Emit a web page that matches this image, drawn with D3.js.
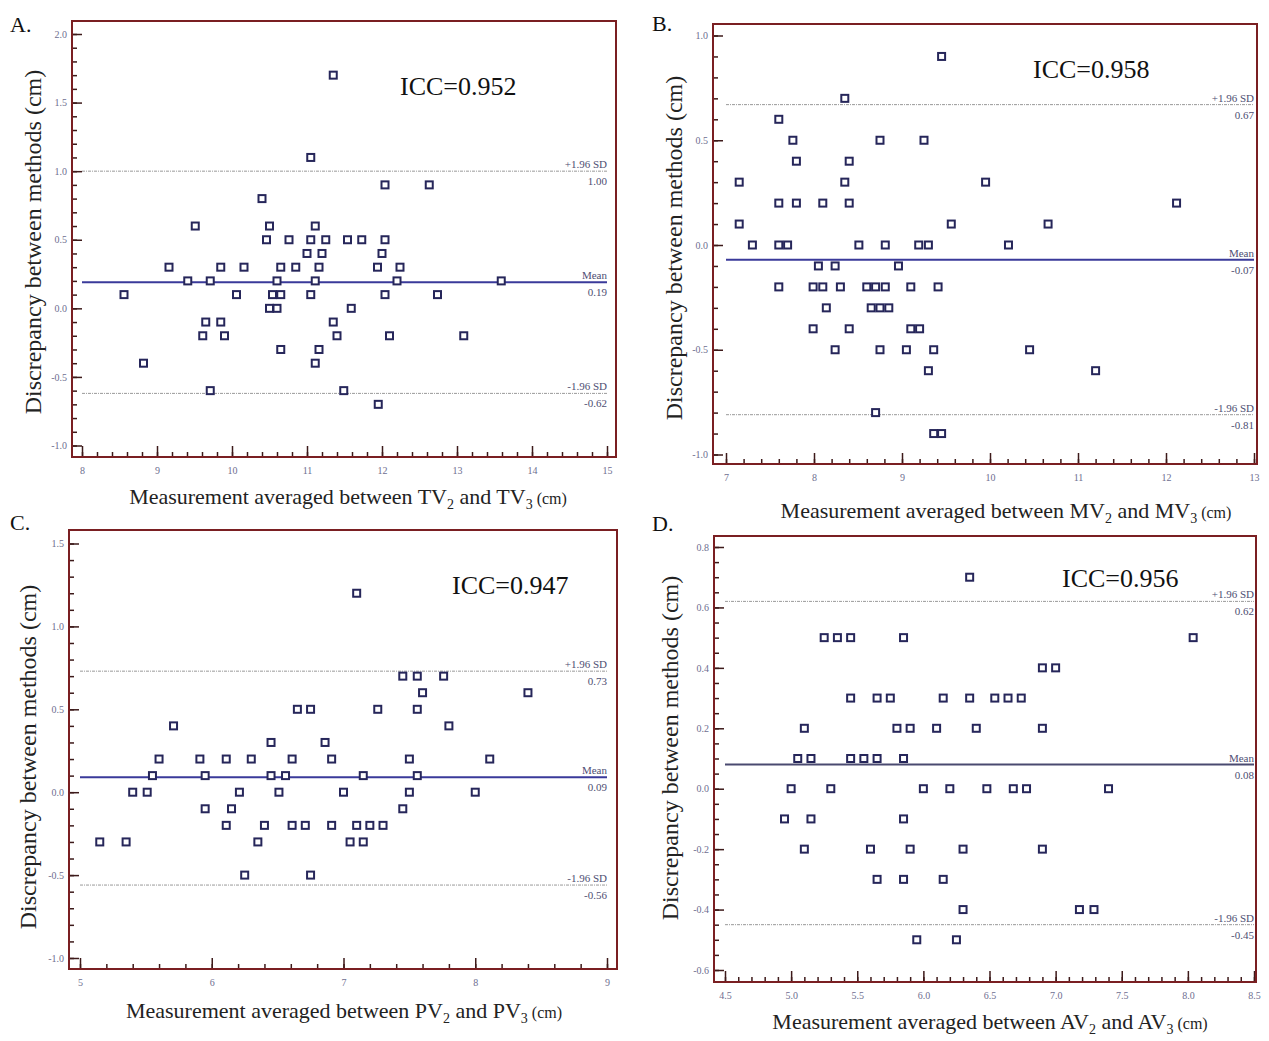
<!DOCTYPE html>
<html>
<head>
<meta charset="utf-8">
<script src="https://cdn.jsdelivr.net/npm/d3@7"></script>
<style>
body { margin: 0; background: #fff; }
text { font-family: "Liberation Serif", "Times New Roman", serif; }
</style>
</head>
<body>
<div id="chart"></div>
<script>
// A. tricuspid valve: average of the two measurements vs. difference
var tvAvg = [11.35, 11.05, 12.04, 12.63, 10.40, 9.51, 10.50, 11.11,
  10.46, 10.76, 11.05, 11.25, 11.54, 11.73, 12.04, 11.00, 11.20, 12.00,
  9.16, 9.85, 10.16, 10.65, 10.85, 11.16, 11.94, 12.24,
  9.41, 9.71, 10.60, 11.11, 12.20, 13.59,
  8.56, 10.06, 10.54, 10.65, 11.05, 12.04, 12.74,
  10.50, 10.60, 11.59, 9.65, 9.85, 11.35,
  9.61, 9.90, 11.40, 12.10, 13.09, 10.65, 11.16, 8.82, 11.11, 9.71, 11.49, 11.95];
var tvDiff = [1.7, 1.1, 0.9, 0.9, 0.8, 0.6, 0.6, 0.6,
  0.5, 0.5, 0.5, 0.5, 0.5, 0.5, 0.5, 0.4, 0.4, 0.4,
  0.3, 0.3, 0.3, 0.3, 0.3, 0.3, 0.3, 0.3,
  0.2, 0.2, 0.2, 0.2, 0.2, 0.2,
  0.1, 0.1, 0.1, 0.1, 0.1, 0.1, 0.1,
  0.0, 0.0, 0.0, -0.1, -0.1, -0.1,
  -0.2, -0.2, -0.2, -0.2, -0.2, -0.3, -0.3, -0.4, -0.4, -0.6, -0.6, -0.7];
var tvLimits = [1.00, 0.19, -0.62];

// B. mitral valve
var mvAvg = [9.45, 8.35, 7.60, 7.76, 8.75, 9.25, 7.80, 8.40,
  7.15, 8.35, 9.95, 7.60, 7.80, 8.10, 8.40, 12.12, 7.15, 9.56, 10.66,
  7.30, 7.60, 7.70, 8.51, 8.81, 9.19, 9.30, 10.21, 8.05, 8.24, 8.96,
  7.60, 7.99, 8.10, 8.30, 8.60, 8.70, 8.81, 9.10, 9.41,
  8.14, 8.65, 8.75, 8.85, 7.99, 8.40, 9.10, 9.20,
  8.24, 8.75, 9.05, 9.36, 10.45, 9.30, 11.20, 8.70, 9.36, 9.45];
var mvDiff = [0.9, 0.7, 0.6, 0.5, 0.5, 0.5, 0.4, 0.4,
  0.3, 0.3, 0.3, 0.2, 0.2, 0.2, 0.2, 0.2, 0.1, 0.1, 0.1,
  0.0, 0.0, 0.0, 0.0, 0.0, 0.0, 0.0, 0.0, -0.1, -0.1, -0.1,
  -0.2, -0.2, -0.2, -0.2, -0.2, -0.2, -0.2, -0.2, -0.2,
  -0.3, -0.3, -0.3, -0.3, -0.4, -0.4, -0.4, -0.4,
  -0.5, -0.5, -0.5, -0.5, -0.5, -0.6, -0.6, -0.8, -0.9, -0.9];
var mvLimits = [0.67, -0.07, -0.81];

// C. pulmonary valve
var pvAvg = [7.10, 7.45, 7.56, 7.76, 7.60, 8.40, 6.65, 6.75, 7.26, 7.56,
  5.71, 7.80, 6.45, 6.86,
  5.60, 5.91, 6.11, 6.30, 6.61, 6.91, 7.50, 8.11,
  5.55, 5.95, 6.45, 6.56, 7.15, 7.56,
  5.40, 5.51, 6.21, 6.51, 7.00, 7.50, 8.00,
  5.95, 6.15, 7.45,
  6.11, 6.40, 6.61, 6.71, 6.91, 7.10, 7.20, 7.30,
  5.15, 5.35, 6.35, 7.05, 7.15, 6.25, 6.75];
var pvDiff = [1.2, 0.7, 0.7, 0.7, 0.6, 0.6, 0.5, 0.5, 0.5, 0.5,
  0.4, 0.4, 0.3, 0.3,
  0.2, 0.2, 0.2, 0.2, 0.2, 0.2, 0.2, 0.2,
  0.1, 0.1, 0.1, 0.1, 0.1, 0.1,
  0.0, 0.0, 0.0, 0.0, 0.0, 0.0, 0.0,
  -0.1, -0.1, -0.1,
  -0.2, -0.2, -0.2, -0.2, -0.2, -0.2, -0.2, -0.2,
  -0.3, -0.3, -0.3, -0.3, -0.3, -0.5, -0.5];
var pvLimits = [0.73, 0.09, -0.56];

// D. aortic valve
var avAvg = [6.35, 5.25, 5.35, 5.45, 5.85, 8.04, 6.90, 7.00,
  5.45, 5.65, 5.75, 6.15, 6.35, 6.54, 6.64, 6.74,
  5.10, 5.80, 5.90, 6.10, 6.40, 6.90,
  5.05, 5.15, 5.45, 5.55, 5.65, 5.85,
  5.00, 5.30, 6.00, 6.20, 6.48, 6.68, 6.78, 7.40,
  4.95, 5.15, 5.85, 5.10, 5.60, 5.90, 6.30, 6.90,
  5.65, 5.85, 6.15, 6.30, 7.18, 7.29, 5.95, 6.25];
var avDiff = [0.7, 0.5, 0.5, 0.5, 0.5, 0.5, 0.4, 0.4,
  0.3, 0.3, 0.3, 0.3, 0.3, 0.3, 0.3, 0.3,
  0.2, 0.2, 0.2, 0.2, 0.2, 0.2,
  0.1, 0.1, 0.1, 0.1, 0.1, 0.1,
  0.0, 0.0, 0.0, 0.0, 0.0, 0.0, 0.0, 0.0,
  -0.1, -0.1, -0.1, -0.2, -0.2, -0.2, -0.2, -0.2,
  -0.3, -0.3, -0.3, -0.4, -0.4, -0.4, -0.5, -0.5];
var avLimits = [0.62, 0.08, -0.45];

var svg = d3.select("#chart")
  .append("svg")
  .attr("width", 1269)
  .attr("height", 1041);

svg.append("rect").attr("width", 1269).attr("height", 1041).attr("fill", "#fff");

var frameColor = "#7a1f22";
var tickColor = "#3d1a1a";
var labelColor = "#6e6e90";

function fmt(digits) {
  return function(d) { return (Math.round(d * 1000) / 1000 + 0).toFixed(digits).replace(/^-0\.0+$/, m => m.slice(1)); };
}

function drawPanel(p) {
  var g = svg.append("g");
  var f = p.frame;

  var x = d3.scaleLinear().domain(p.xDomain).range(p.xRange);
  var y = d3.scaleLinear().domain(p.yDomain).range(p.yRange);

  // minor ticks
  g.append("g")
    .attr("transform", `translate(${f[0]}, 0)`)
    .call(d3.axisLeft(y).tickValues(p.yMinor).tickSize(-5).tickFormat(""))
    .call(a => a.select(".domain").remove());
  g.append("g")
    .attr("transform", `translate(0, ${f[3]})`)
    .call(d3.axisBottom(x).tickValues(p.xMinor).tickSize(-5).tickFormat(""))
    .call(a => a.select(".domain").remove());

  // major ticks with labels
  var yAxis = g.append("g")
    .attr("transform", `translate(${f[0]}, 0)`)
    .call(d3.axisLeft(y).tickValues(p.yMajor).tickSize(-10).tickPadding(5).tickFormat(fmt(1)));
  var xAxis = g.append("g")
    .attr("transform", `translate(0, ${f[3]})`)
    .call(d3.axisBottom(x).tickValues(p.xMajor).tickSize(-11).tickPadding(10).tickFormat(fmt(p.xDigits)));

  [yAxis, xAxis].forEach(function(a) {
    a.select(".domain").remove();
    a.selectAll("text")
      .attr("fill", labelColor)
      .style("font-family", "'Liberation Serif', serif")
      .style("font-size", "10px");
  });
  g.selectAll(".tick line").attr("stroke", tickColor).attr("stroke-width", 1.5);

  // frame
  g.append("rect")
    .attr("x", f[0]).attr("y", f[1])
    .attr("width", f[2] - f[0]).attr("height", f[3] - f[1])
    .attr("fill", "none")
    .attr("stroke", frameColor)
    .attr("stroke-width", 2);

  // limits of agreement and mean
  var lineNames = ["+1.96 SD", "Mean", "-1.96 SD"];
  p.limits.forEach(function(v, i) {
    g.append("line")
      .attr("x1", p.xRange[0]).attr("x2", p.xRange[1])
      .attr("y1", y(v)).attr("y2", y(v))
      .attr("stroke", i === 1 ? p.meanColor : "#999")
      .attr("stroke-width", i === 1 ? 2 : 1)
      .attr("stroke-dasharray", i === 1 ? null : "3,1,1,1");
    g.append("text")
      .attr("x", p.xRange[1]).attr("y", y(v) - 3)
      .attr("text-anchor", "end")
      .attr("font-size", 11)
      .attr("fill", "#4e4e72")
      .text(lineNames[i]);
    g.append("text")
      .attr("x", p.xRange[1]).attr("y", y(v) + 14)
      .attr("text-anchor", "end")
      .attr("font-size", 11)
      .attr("fill", "#4e4e72")
      .text(v.toFixed(2));
  });

  // points
  g.selectAll("rect.pt")
    .data(p.xs)
    .enter()
    .append("rect")
    .attr("class", "pt")
    .attr("x", (d, i) => x(d) - 3.5)
    .attr("y", (d, i) => y(p.ys[i]) - 3.5)
    .attr("width", 7)
    .attr("height", 7)
    .attr("fill", "#fff")
    .attr("stroke", "#26265a")
    .attr("stroke-width", 2);

  // ICC
  g.append("text")
    .attr("x", p.iccPos[0]).attr("y", p.iccPos[1])
    .attr("font-size", 26)
    .attr("fill", "#111")
    .text(p.icc);

  // panel letter
  g.append("text")
    .attr("x", p.letterPos[0]).attr("y", p.letterPos[1])
    .attr("font-size", 22)
    .attr("fill", "#111")
    .text(p.letter);

  // y axis title
  g.append("text")
    .attr("transform", `translate(${p.yTitlePos[0]}, ${p.yTitlePos[1]}) rotate(-90)`)
    .attr("text-anchor", "middle")
    .attr("font-size", 24)
    .attr("fill", "#222")
    .text("Discrepancy between methods (cm)");

  // x axis title with subscripts
  var t = g.append("text")
    .attr("x", p.xTitlePos[0]).attr("y", p.xTitlePos[1])
    .attr("text-anchor", "middle")
    .attr("font-size", 22)
    .attr("fill", "#222");
  t.append("tspan").text("Measurement averaged between " + p.valve);
  t.append("tspan").attr("font-size", 14).attr("dy", 5).text("2");
  t.append("tspan").attr("dy", -5).text(" and " + p.valve);
  t.append("tspan").attr("font-size", 14).attr("dy", 5).text("3");
  t.append("tspan").attr("dy", -5).attr("font-size", 16).text(" (cm)");
}

function steps(lo, hi, n) {
  return d3.range(0, n + 1).map(k => Math.round((lo + (hi - lo) * k / n) * 1e6) / 1e6);
}

drawPanel({
  letter: "A.", valve: "TV", icc: "ICC=0.952",
  xs: tvAvg, ys: tvDiff, limits: tvLimits,
  frame: [72, 21, 616, 457],
  xDomain: [8, 15], xRange: [82, 607],
  yDomain: [-1, 2], yRange: [445.5, 34],
  xMajor: d3.range(8, 16), xMinor: steps(8, 15, 35), xDigits: 0,
  yMajor: steps(-1, 2, 6), yMinor: steps(-1, 2, 30),
  meanColor: "#3a3a9a",
  iccPos: [400, 95], letterPos: [10, 32],
  yTitlePos: [41, 242], xTitlePos: [348, 504]
});

drawPanel({
  letter: "B.", valve: "MV", icc: "ICC=0.958",
  xs: mvAvg, ys: mvDiff, limits: mvLimits,
  frame: [713, 24, 1257, 464],
  xDomain: [7, 13], xRange: [726, 1254],
  yDomain: [-1, 1], yRange: [454.5, 35.5],
  xMajor: d3.range(7, 14), xMinor: steps(7, 13, 30), xDigits: 0,
  yMajor: steps(-1, 1, 4), yMinor: steps(-1, 1, 20),
  meanColor: "#3a3a9a",
  iccPos: [1033, 78], letterPos: [652, 31],
  yTitlePos: [682, 248], xTitlePos: [1006, 518]
});

drawPanel({
  letter: "C.", valve: "PV", icc: "ICC=0.947",
  xs: pvAvg, ys: pvDiff, limits: pvLimits,
  frame: [69, 530, 617, 969],
  xDomain: [5, 9], xRange: [80, 607],
  yDomain: [-1, 1.5], yRange: [958, 543.5],
  xMajor: d3.range(5, 10), xMinor: steps(5, 9, 20), xDigits: 0,
  yMajor: steps(-1, 1.5, 5), yMinor: steps(-1, 1.5, 25),
  meanColor: "#3a3a9a",
  iccPos: [452, 594], letterPos: [10, 530],
  yTitlePos: [36, 757], xTitlePos: [344, 1018]
});

drawPanel({
  letter: "D.", valve: "AV", icc: "ICC=0.956",
  xs: avAvg, ys: avDiff, limits: avLimits,
  frame: [714, 536, 1256, 982],
  xDomain: [4.5, 8.5], xRange: [725, 1254],
  yDomain: [-0.6, 0.8], yRange: [970, 547],
  xMajor: steps(4.5, 8.5, 8), xMinor: steps(4.5, 8.5, 40), xDigits: 1,
  yMajor: steps(-0.6, 0.8, 7), yMinor: steps(-0.6, 0.8, 28),
  meanColor: "#4a4a70",
  iccPos: [1062, 587], letterPos: [652, 531],
  yTitlePos: [678, 748], xTitlePos: [990, 1029]
});
</script>
</body>
</html>
